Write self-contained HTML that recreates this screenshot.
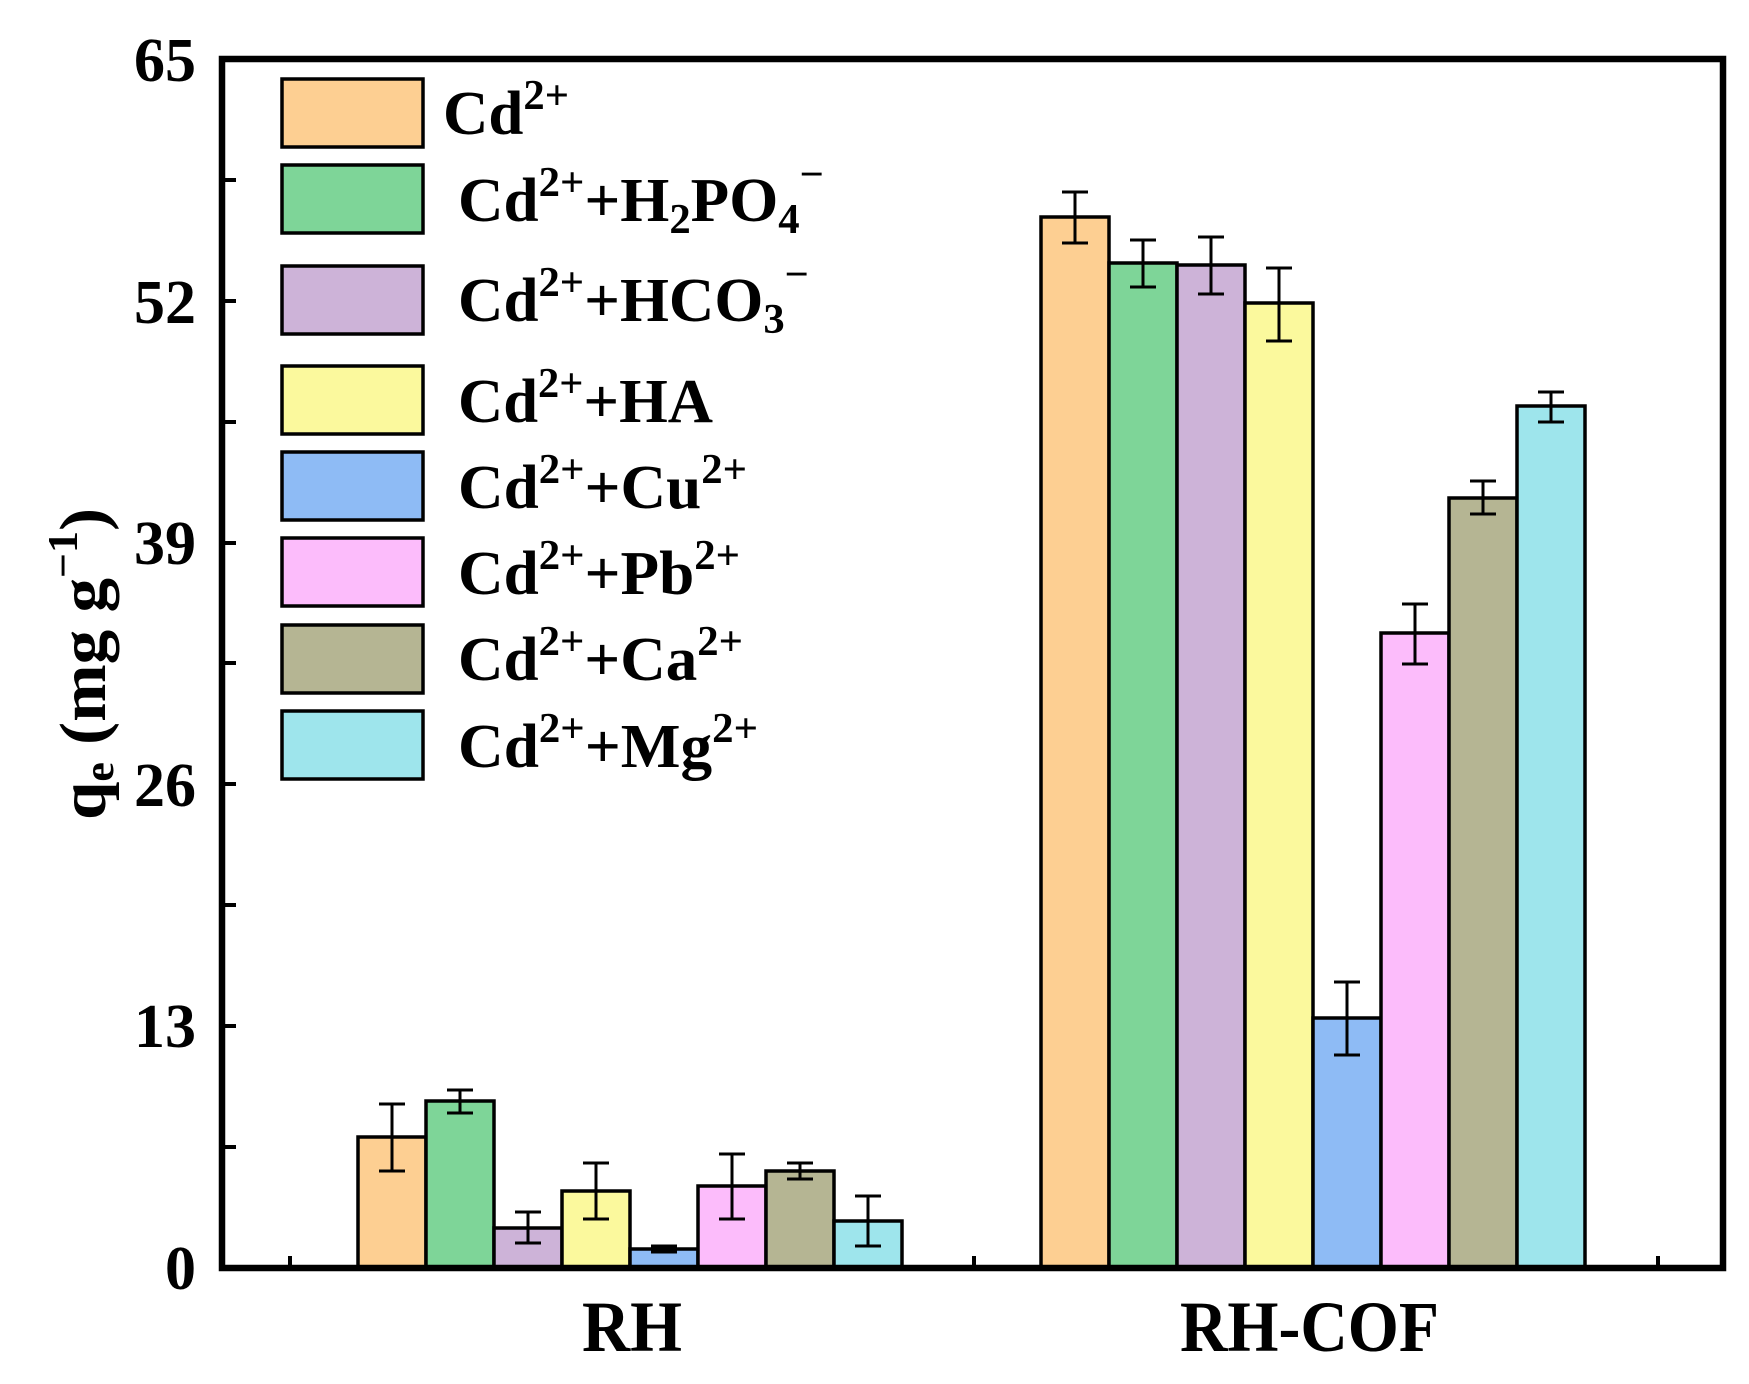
<!DOCTYPE html>
<html><head><meta charset="utf-8"><style>
html,body{margin:0;padding:0;background:#fff;}
svg{display:block;}
text{font-family:"Liberation Serif",serif;font-weight:bold;fill:#000;}
</style></head><body>
<svg width="1749" height="1384" viewBox="0 0 1749 1384" xmlns="http://www.w3.org/2000/svg">
<rect width="1749" height="1384" fill="#fff"/>
<g stroke="#000" stroke-width="3.5">
<rect x="358" y="1137" width="68" height="131" fill="#FDCF92"/>
<rect x="426" y="1101" width="68" height="167" fill="#7ED598"/>
<rect x="494" y="1228" width="68" height="40" fill="#CDB3D8"/>
<rect x="562" y="1191" width="68" height="77" fill="#FBF99D"/>
<rect x="630" y="1249" width="68" height="19" fill="#8EBBF5"/>
<rect x="698" y="1186" width="68" height="82" fill="#FCBCFB"/>
<rect x="766" y="1171" width="68" height="97" fill="#B5B593"/>
<rect x="834" y="1221" width="68" height="47" fill="#9EE5EC"/>
<rect x="1041" y="217" width="68" height="1051" fill="#FDCF92"/>
<rect x="1109" y="263" width="68" height="1005" fill="#7ED598"/>
<rect x="1177" y="265" width="68" height="1003" fill="#CDB3D8"/>
<rect x="1245" y="303" width="68" height="965" fill="#FBF99D"/>
<rect x="1313" y="1018" width="68" height="250" fill="#8EBBF5"/>
<rect x="1381" y="633" width="68" height="635" fill="#FCBCFB"/>
<rect x="1449" y="498" width="68" height="770" fill="#B5B593"/>
<rect x="1517" y="406" width="68" height="862" fill="#9EE5EC"/>
</g>
<g stroke="#000" stroke-width="3" fill="none">
<path d="M392 1104V1171M379 1104H405M379 1171H405"/>
<path d="M460 1090V1113M447 1090H473M447 1113H473"/>
<path d="M528 1212V1243M515 1212H541M515 1243H541"/>
<path d="M596 1163V1219M583 1163H609M583 1219H609"/>
<path d="M664 1246V1252M651 1246H677M651 1252H677"/>
<path d="M732 1154V1219M719 1154H745M719 1219H745"/>
<path d="M800 1163V1179M787 1163H813M787 1179H813"/>
<path d="M868 1196V1246M855 1196H881M855 1246H881"/>
<path d="M1075 192V243M1062 192H1088M1062 243H1088"/>
<path d="M1143 240V287M1130 240H1156M1130 287H1156"/>
<path d="M1211 237V294M1198 237H1224M1198 294H1224"/>
<path d="M1279 268V341M1266 268H1292M1266 341H1292"/>
<path d="M1347 982V1055M1334 982H1360M1334 1055H1360"/>
<path d="M1415 604V664M1402 604H1428M1402 664H1428"/>
<path d="M1483 481V514M1470 481H1496M1470 514H1496"/>
<path d="M1551 392V422M1538 392H1564M1538 422H1564"/>
</g>
<rect x="222" y="59" width="1501" height="1209" fill="none" stroke="#000" stroke-width="6.5"/>
<g stroke="#000" stroke-width="4">
<path d="M222 1026H236M222 784H236M222 543H236M222 301H236M222 180H236M222 905H236M222 663H236M222 422H236M222 1147H236"/>
<path d="M290 1268V1256M974 1268V1256M1658 1268V1256"/>
</g>
<g font-size="62" text-anchor="end">
<text x="196" y="1289">0</text>
<text x="196" y="1047">13</text>
<text x="196" y="806">26</text>
<text x="196" y="564">39</text>
<text x="196" y="323">52</text>
<text x="196" y="81">65</text>
</g>
<text x="632" y="1351" font-size="72" text-anchor="middle" textLength="100" lengthAdjust="spacingAndGlyphs">RH</text>
<text x="1180" y="1351" font-size="72" textLength="259" lengthAdjust="spacingAndGlyphs">RH-COF</text>
<text transform="translate(105,820) rotate(-90)" font-size="66" textLength="312" lengthAdjust="spacingAndGlyphs">q<tspan font-size="42" dy="8">e</tspan><tspan dy="-8"> (mg g</tspan><tspan font-size="42" dy="-28">−1</tspan><tspan dy="28">)</tspan></text>
<g stroke="#000" stroke-width="3.5">
<rect x="282" y="79" width="141" height="68" fill="#FDCF92"/>
<rect x="282" y="165" width="141" height="68" fill="#7ED598"/>
<rect x="282" y="266" width="141" height="68" fill="#CDB3D8"/>
<rect x="282" y="366" width="141" height="68" fill="#FBF99D"/>
<rect x="282" y="452" width="141" height="68" fill="#8EBBF5"/>
<rect x="282" y="538" width="141" height="68" fill="#FCBCFB"/>
<rect x="282" y="625" width="141" height="68" fill="#B5B593"/>
<rect x="282" y="711" width="141" height="68" fill="#9EE5EC"/>
</g>
<g font-size="62">
<text x="443" y="134" textLength="126" lengthAdjust="spacingAndGlyphs">Cd<tspan font-size="42" dy="-25">2+</tspan></text>
<text x="458" y="221" textLength="366" lengthAdjust="spacingAndGlyphs">Cd<tspan font-size="42" dy="-25">2+</tspan><tspan dy="25">+H</tspan><tspan font-size="42" dy="12">2</tspan><tspan dy="-12">PO</tspan><tspan font-size="42" dy="12">4</tspan><tspan font-size="42" dy="-45">−</tspan></text>
<text x="458" y="321" textLength="351" lengthAdjust="spacingAndGlyphs">Cd<tspan font-size="42" dy="-25">2+</tspan><tspan dy="25">+HCO</tspan><tspan font-size="42" dy="12">3</tspan><tspan font-size="42" dy="-45">−</tspan></text>
<text x="458" y="422" textLength="255" lengthAdjust="spacingAndGlyphs">Cd<tspan font-size="42" dy="-25">2+</tspan><tspan dy="25">+HA</tspan></text>
<text x="458" y="508" textLength="289" lengthAdjust="spacingAndGlyphs">Cd<tspan font-size="42" dy="-25">2+</tspan><tspan dy="25">+Cu</tspan><tspan font-size="42" dy="-25">2+</tspan></text>
<text x="458" y="594" textLength="282" lengthAdjust="spacingAndGlyphs">Cd<tspan font-size="42" dy="-25">2+</tspan><tspan dy="25">+Pb</tspan><tspan font-size="42" dy="-25">2+</tspan></text>
<text x="458" y="680" textLength="285" lengthAdjust="spacingAndGlyphs">Cd<tspan font-size="42" dy="-25">2+</tspan><tspan dy="25">+Ca</tspan><tspan font-size="42" dy="-25">2+</tspan></text>
<text x="458" y="767" textLength="300" lengthAdjust="spacingAndGlyphs">Cd<tspan font-size="42" dy="-25">2+</tspan><tspan dy="25">+Mg</tspan><tspan font-size="42" dy="-25">2+</tspan></text>
</g>
</svg>
</body></html>
